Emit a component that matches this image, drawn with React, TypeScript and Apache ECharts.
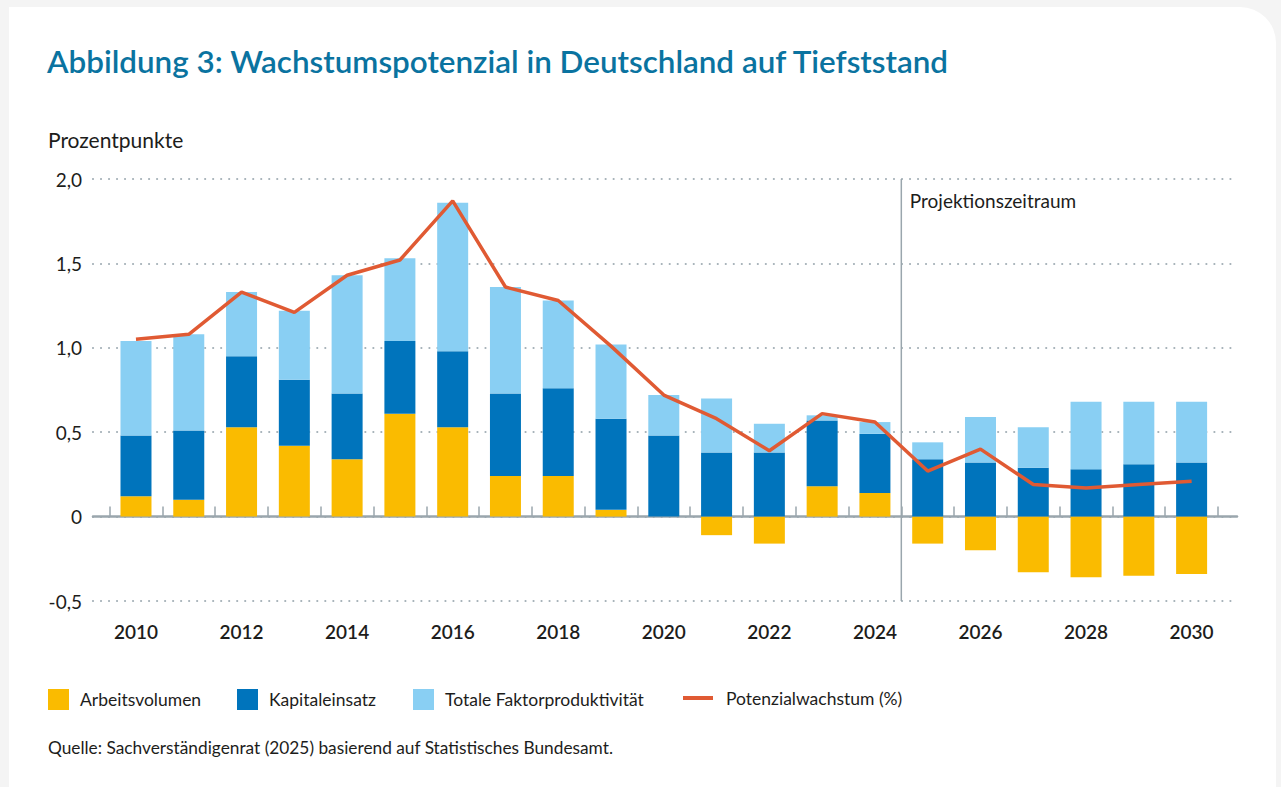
import React, { useEffect, useRef } from "react";
import * as echarts from "echarts";

const years = ["2010","2011","2012","2013","2014","2015","2016","2017","2018","2019","2020","2021","2022","2023","2024","2025","2026","2027","2028","2029","2030"];
const arbeitsvolumen = [0.12, 0.10, 0.53, 0.42, 0.34, 0.61, 0.53, 0.24, 0.24, 0.04, 0.0, -0.11, -0.16, 0.18, 0.14, -0.16, -0.20, -0.33, -0.36, -0.35, -0.34];
const kapitaleinsatz = [0.36, 0.41, 0.42, 0.39, 0.39, 0.43, 0.45, 0.49, 0.52, 0.54, 0.48, 0.38, 0.38, 0.39, 0.35, 0.34, 0.32, 0.29, 0.28, 0.31, 0.32];
const faktorproduktivitaet = [0.56, 0.57, 0.38, 0.41, 0.70, 0.49, 0.88, 0.63, 0.52, 0.44, 0.24, 0.32, 0.17, 0.03, 0.07, 0.10, 0.27, 0.24, 0.40, 0.37, 0.36];
const potenzialwachstum = [1.05, 1.08, 1.33, 1.21, 1.43, 1.52, 1.87, 1.36, 1.28, 1.01, 0.72, 0.58, 0.39, 0.61, 0.56, 0.27, 0.40, 0.19, 0.17, 0.19, 0.21];
const projectionStartIndex = 14.5;
const yMin = -0.5;
const yMax = 2.0;

const FONT = "Lato";
const TEXT = "#1d1d1b";

export default function App() {
  const ref = useRef<HTMLDivElement>(null);
  useEffect(() => {
    if (!ref.current) return;
    const chart = echarts.init(ref.current, undefined, { renderer: "svg" });
    const fmt = (v: number) => (v === 0 ? "0" : v.toFixed(1).replace(".", ","));
    const legendBase = {
      top: 689,
      padding: 0,
      itemWidth: 21,
      itemHeight: 21,
      selectedMode: false,
      textStyle: { fontFamily: FONT, fontSize: 17.5, color: TEXT, padding: [0, 0, 0, 6] },
    };
    chart.setOption({
      animation: false,
      textStyle: { fontFamily: FONT },
      title: [
        {
          text: "Abbildung 3: Wachstumspotenzial in Deutschland auf Tiefststand",
          left: 47,
          top: 45,
          padding: 0,
          textStyle: { fontFamily: FONT, fontSize: 31.4, fontWeight: 600, color: "#0a73a0" },
        },
        {
          text: "Prozentpunkte",
          left: 48,
          top: 129,
          padding: 0,
          textStyle: { fontFamily: FONT, fontSize: 21, fontWeight: 400, color: TEXT },
        },
        {
          text: "Quelle: Sachverständigenrat (2025) basierend auf Statistisches Bundesamt.",
          left: 48,
          top: 739,
          padding: 0,
          textStyle: { fontFamily: FONT, fontSize: 17.3, fontWeight: 400, color: TEXT },
        },
      ],
      legend: [
        { ...legendBase, left: 48, data: [{ name: "Arbeitsvolumen", icon: "rect" }] },
        { ...legendBase, left: 237, data: [{ name: "Kapitaleinsatz", icon: "rect" }] },
        { ...legendBase, left: 413, data: [{ name: "Totale Faktorproduktivität", icon: "rect" }] },
        {
          ...legendBase,
          left: 683,
          top: 689,
          itemWidth: 30,
          itemHeight: 4,
          textStyle: { ...legendBase.textStyle, padding: [0, 0, 0, 8] },
          data: [{ name: "Potenzialwachstum (%)", icon: "rect", itemStyle: { color: "#e05a33" } }],
        },
      ],
      grid: [
        { left: 109.6, right: 63, top: 179, bottom: 186 },
        { left: 93, right: 44, top: 179, bottom: 186 },
      ],
      xAxis: [
        {
          type: "category",
          gridIndex: 0,
          data: years,
          boundaryGap: true,
          axisLine: { show: false },
          axisTick: { show: true, inside: true, length: 10, interval: 0, lineStyle: { color: "#9aa6ad", width: 1.5 } },
          axisLabel: { interval: 1, margin: 21, fontFamily: FONT, fontSize: 19, fontWeight: 600, color: TEXT },
          splitLine: { show: false },
        },
        {
          type: "value",
          gridIndex: 0,
          min: -0.5,
          max: 20.5,
          show: false,
        },
        {
          type: "value",
          gridIndex: 1,
          min: 0,
          max: 1,
          axisLine: { show: true, onZero: true, lineStyle: { color: "#9aa6ad", width: 2.5 } },
          axisTick: { show: false },
          axisLabel: { show: false },
          splitLine: { show: false },
        },
      ],
      yAxis: [
        {
          type: "value",
          gridIndex: 0,
          min: yMin,
          max: yMax,
          interval: 0.5,
          show: false,
          splitLine: { show: false },
        },
        {
          type: "value",
          gridIndex: 1,
          min: yMin,
          max: yMax,
          interval: 0.5,
          axisLine: { show: false },
          axisTick: { show: false },
          axisLabel: { margin: 11, fontFamily: FONT, fontSize: 19, color: TEXT, formatter: fmt },
          splitLine: { show: true, lineStyle: { color: "#a3afb6", width: 2.2, type: [0.01, 8], cap: "round" } },
        },
      ],
      series: [
        {
          name: "Arbeitsvolumen",
          type: "bar",
          stack: "total",
          xAxisIndex: 0,
          yAxisIndex: 0,
          barWidth: 31,
          itemStyle: { color: "#fabb00" },
          data: arbeitsvolumen,
          silent: true,
        },
        {
          name: "Kapitaleinsatz",
          type: "bar",
          stack: "total",
          xAxisIndex: 0,
          yAxisIndex: 0,
          barWidth: 31,
          itemStyle: { color: "#0074bc" },
          data: kapitaleinsatz,
          silent: true,
        },
        {
          name: "Totale Faktorproduktivität",
          type: "bar",
          stack: "total",
          xAxisIndex: 0,
          yAxisIndex: 0,
          barWidth: 31,
          itemStyle: { color: "#89cff3" },
          data: faktorproduktivitaet,
          silent: true,
        },
        {
          name: "Potenzialwachstum (%)",
          type: "line",
          xAxisIndex: 0,
          yAxisIndex: 0,
          symbol: "none",
          lineStyle: { color: "#e05a33", width: 3.5 },
          itemStyle: { color: "#e05a33" },
          data: potenzialwachstum,
          z: 5,
          silent: true,
        },
        {
          name: "Projektionszeitraum",
          type: "line",
          xAxisIndex: 1,
          yAxisIndex: 0,
          symbol: "circle",
          symbolSize: 1,
          itemStyle: { color: "rgba(0,0,0,0)" },
          lineStyle: { color: "#9aa6ad", width: 1.5 },
          data: [
            {
              value: [projectionStartIndex, yMax],
              label: {
                show: true,
                formatter: "Projektionszeitraum",
                position: [9, 22],
                align: "left",
                verticalAlign: "middle",
                fontFamily: FONT,
                fontSize: 19,
                color: TEXT,
              },
            },
            [projectionStartIndex, yMin],
          ],
          z: 3,
          silent: true,
        },
      ],
    });
    return () => chart.dispose();
  }, []);

  return (
    <div style={{ position: "fixed", left: 0, top: 0, width: 1281, height: 787, background: "#f4f4f4", overflow: "hidden" }}>
      <div style={{ position: "absolute", left: 9, top: 7, width: 1267, height: 820, background: "#ffffff", borderTopRightRadius: 36 }} />
      <div ref={ref} style={{ position: "absolute", left: 0, top: 0, width: 1281, height: 787 }} />
    </div>
  );
}
